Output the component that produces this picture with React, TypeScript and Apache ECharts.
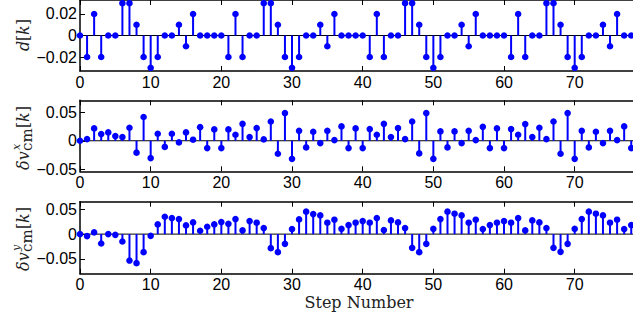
import React, { useEffect, useRef } from "react";
import * as echarts from "echarts";

const steps: number[] = Array.from({ length: 79 }, (_, i) => i);

const dK: number[] = [
  0, -0.02, 0.02, -0.02, 0, 0, 0.03, 0.03, 0.01, -0.02,
  -0.03, -0.02, 0, 0, 0.01, -0.01, 0.02, 0, 0, 0,
  0, -0.02, 0.02, -0.02, 0, 0, 0.03, 0.03, 0.01, -0.02,
  -0.03, -0.02, 0, 0, 0.01, -0.01, 0.02, 0, 0, 0,
  0, -0.02, 0.02, -0.02, 0, 0, 0.03, 0.03, 0.01, -0.02,
  -0.03, -0.02, 0, 0, 0.01, -0.01, 0.02, 0, 0, 0,
  0, -0.02, 0.02, -0.02, 0, 0, 0.03, 0.03, 0.01, -0.02,
  -0.03, -0.02, 0, 0, 0.01, -0.01, 0.02, 0, 0,
];

const dvx: number[] = [
  0, 0.003, 0.0218, 0.0118, 0.0147, 0.0082, 0.0065, 0.023, -0.021, 0.042,
  -0.0306, 0.0124, -0.011, 0.0124, -0.003, 0.0147, 0.0018, 0.024, -0.013, 0.02,
  -0.013, 0.02, 0.0106, 0.03, 0.0065, 0.0224, 0.0024, 0.034, -0.023, 0.049,
  -0.032, 0.0176, -0.0118, 0.0159, -0.0041, 0.0176, 0.0012, 0.0253, -0.013, 0.0218,
  -0.013, 0.0206, 0.0106, 0.03, 0.0065, 0.0224, 0.003, 0.034, -0.0224, 0.049,
  -0.032, 0.0165, -0.0118, 0.0165, -0.0041, 0.0176, 0.0012, 0.0247, -0.013, 0.0218,
  -0.013, 0.0206, 0.0106, 0.0294, 0.0065, 0.023, 0.003, 0.034, -0.023, 0.049,
  -0.032, 0.0176, -0.0118, 0.0159, -0.0041, 0.0176, 0.0012, 0.0253, -0.013,
];

const dvy: number[] = [
  0, -0.004, 0.0034, -0.019, 0, -0.0014, -0.0149, -0.0534, -0.0588, -0.0365,
  -0.0034, 0.0196, 0.0351, 0.0324, 0.0304, 0.0176, 0.0236, 0.0068, 0.0149, 0.0196,
  0.0243, 0.0209, 0.0304, 0.0074, 0.0264, 0.023, 0.0122, -0.0284, -0.0365, -0.0196,
  0.0101, 0.0297, 0.0453, 0.0405, 0.0378, 0.023, 0.0291, 0.0108, 0.0182, 0.023,
  0.0264, 0.023, 0.0324, 0.0081, 0.0277, 0.0236, 0.0122, -0.0277, -0.0365, -0.0196,
  0.0108, 0.0304, 0.0453, 0.0412, 0.0378, 0.023, 0.0291, 0.0101, 0.0182, 0.023,
  0.0264, 0.023, 0.0324, 0.0074, 0.0277, 0.0236, 0.0122, -0.0277, -0.0358, -0.0196,
  0.0108, 0.0304, 0.0453, 0.0412, 0.0378, 0.023, 0.0291, 0.0101, 0.0182,
];

const xTicks: number[] = [0, 10, 20, 30, 40, 50, 60, 70];
const yTicks1: number[] = [-0.02, 0, 0.02];
const yTicks2: number[] = [-0.05, 0, 0.05];
const yTicks3: number[] = [-0.05, 0, 0.05];
const xLabel = "Step Number";

const X_MAX = 78.25;
const BLUE = "#0000ff";
const TICK_FONT = "'Liberation Sans', Arial, sans-serif";
const SERIF = "'DejaVu Serif', serif";

const panels = [
  { top: -2, height: 73, min: -0.033, max: 0.033, ticks: yTicks1, data: dK },
  { top: 100.3, height: 71, min: -0.054, max: 0.0715, ticks: yTicks2, data: dvx },
  { top: 201.7, height: 72, min: -0.08, max: 0.0655, ticks: yTicks3, data: dvy },
];

function fmt(v: number): string {
  if (v === 0) return "0";
  const s = Math.abs(v).toFixed(2);
  return (v < 0 ? "\u2212" : "") + s;
}

export default function App() {
  const ref = useRef<HTMLDivElement>(null);
  useEffect(() => {
    if (!ref.current) return;
    const chart = echarts.init(ref.current, undefined, { renderer: "svg" });

    const grids: any[] = [];
    const xAxes: any[] = [];
    const yAxes: any[] = [];
    const series: any[] = [];

    panels.forEach((p, i) => {
      grids.push({ left: 80, width: 553, top: p.top, height: p.height });
      // bottom axis
      xAxes.push({
        type: "value",
        gridIndex: i,
        min: 0,
        max: X_MAX,
        position: "bottom",
        axisLine: { onZero: false, lineStyle: { color: "#000", width: 1.5 } },
        axisTick: { inside: true, length: 5, customValues: xTicks, lineStyle: { color: "#000" } },
        axisLabel: {
          customValues: xTicks,
          color: "#000",
          fontSize: 16,
          fontFamily: TICK_FONT,
          margin: 3,
        },
        splitLine: { show: false },
      });
      // top frame axis
      xAxes.push({
        type: "value",
        gridIndex: i,
        min: 0,
        max: X_MAX,
        position: "top",
        axisLine: { onZero: false, lineStyle: { color: "#000", width: 1.5 } },
        axisTick: { inside: true, length: 5, customValues: xTicks, lineStyle: { color: "#000" } },
        axisLabel: { show: false },
        splitLine: { show: false },
      });
      yAxes.push({
        type: "value",
        gridIndex: i,
        min: p.min,
        max: p.max,
        position: "left",
        axisLine: { show: true, onZero: false, lineStyle: { color: "#000", width: 1.5 } },
        axisTick: { show: true, inside: true, length: 5, customValues: p.ticks, lineStyle: { color: "#000" } },
        axisLabel: {
          customValues: p.ticks,
          color: "#000",
          fontSize: 16,
          fontFamily: TICK_FONT,
          margin: 3,
          formatter: (v: number) => fmt(v),
        },
        splitLine: { show: false },
      });
      // baseline
      series.push({
        type: "line",
        xAxisIndex: i * 2,
        yAxisIndex: i,
        data: [
          [0, 0],
          [X_MAX, 0],
        ],
        symbol: "none",
        lineStyle: { color: "#000", width: 1 },
        silent: true,
        z: 1,
      });
      series.push({
        type: "custom",
        xAxisIndex: i * 2,
        yAxisIndex: i,
        clip: false,
        z: 3,
        data: steps.map((s, k) => [s, p.data[k]]),
        encode: { x: 0, y: 1 },
        renderItem: (params: any, api: any) => {
          const x = api.value(0);
          const v = api.value(1);
          const p0 = api.coord([x, 0]);
          const p1 = api.coord([x, v]);
          return {
            type: "group",
            children: [
              {
                type: "line",
                shape: { x1: p0[0], y1: p0[1], x2: p1[0], y2: p1[1] },
                style: { stroke: BLUE, lineWidth: 2 },
              },
              {
                type: "circle",
                shape: { cx: p1[0], cy: p1[1], r: 3.3 },
                style: { fill: BLUE },
              },
            ],
          };
        },
      });
    });

    const mainStyle = (text: string, x: number, extra: any = {}) => ({
      type: "text",
      x,
      y: 0,
      style: {
        text,
        fontSize: 16,
        fontFamily: SERIF,
        fill: "#222",
        textAlign: "left",
        textVerticalAlign: "middle",
        ...extra,
      },
    });

    const dvLabel = (cx: number, cy: number, sup: string) => ({
      type: "group",
      x: cx,
      y: cy,
      rotation: Math.PI / 2,
      children: [
        mainStyle("δv", -33, { fontStyle: "italic" }),
        { ...mainStyle("cm", -14, { fontSize: 15 }), y: 4 },
        { ...mainStyle(sup, -13, { fontSize: 11, fontStyle: "italic" }), y: -7 },
        mainStyle("[", 9),
        mainStyle("k", 15, { fontStyle: "italic" }),
        mainStyle("]", 25),
      ],
    });

    chart.setOption({
      animation: false,
      backgroundColor: "#fff",
      grid: grids,
      xAxis: xAxes,
      yAxis: yAxes,
      series,
      graphic: [
        {
          type: "group",
          x: 23,
          y: 35,
          rotation: Math.PI / 2,
          children: [
            mainStyle("d", -16, { fontStyle: "italic" }),
            mainStyle("[", -6),
            mainStyle("k", 0, { fontStyle: "italic" }),
            mainStyle("]", 10),
          ],
        },
        dvLabel(23, 137, "x"),
        dvLabel(23, 238, "y"),
        {
          type: "text",
          x: 359,
          y: 302,
          style: {
            text: xLabel,
            fontSize: 16,
            fontFamily: SERIF,
            fill: "#222",
            textAlign: "center",
            textVerticalAlign: "middle",
          },
        },
      ],
    });
    return () => chart.dispose();
  }, []);

  return (
    <div
      ref={ref}
      style={{ position: "fixed", left: 0, top: 0, width: 633, height: 322, background: "#fff" }}
    />
  );
}
